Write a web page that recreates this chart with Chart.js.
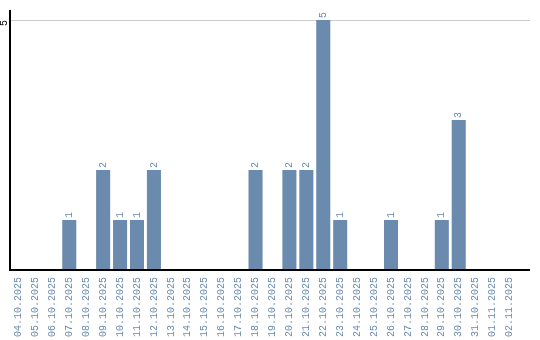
<!DOCTYPE html>
<html lang="en">
<head>
    <meta charset="UTF-8">
    <title>Daily count</title>
    <style>
        html, body { margin: 0; padding: 0; background: #ffffff; }
        .chart-container { position: relative; width: 540px; height: 340px; }
    </style>
</head>
<body>
    <div class="chart-container">
        <canvas id="dayChart" width="540" height="340"></canvas>
    </div>

    <script src="https://cdn.jsdelivr.net/npm/chart.js"></script>
    <script>
        // dates shown on the x axis
        const days = [
            '04.10.2025', '05.10.2025', '06.10.2025', '07.10.2025', '08.10.2025',
            '09.10.2025', '10.10.2025', '11.10.2025', '12.10.2025', '13.10.2025',
            '14.10.2025', '15.10.2025', '16.10.2025', '17.10.2025', '18.10.2025',
            '19.10.2025', '20.10.2025', '21.10.2025', '22.10.2025', '23.10.2025',
            '24.10.2025', '25.10.2025', '26.10.2025', '27.10.2025', '28.10.2025',
            '29.10.2025', '30.10.2025', '31.10.2025', '01.11.2025', '02.11.2025'
        ];
        const counts = [0, 0, 0, 1, 0, 2, 1, 1, 2, 0, 0, 0, 0, 0, 2, 0, 2, 2, 5, 1, 0, 0, 1, 0, 0, 1, 3, 0, 0, 0];
        const yTicks = [5];
        const yMax = 5.2;

        const barColor = '#6a8bad';
        const monoFont = "'Liberation Mono', monospace";

        // axis lines, the grid line and the value labels over the bars
        const decorations = {
            id: 'decorations',
            beforeDatasetsDraw(chart) {
                const { ctx, chartArea, scales } = chart;
                const ext = chartArea.right + 12;
                ctx.save();
                ctx.strokeStyle = '#cccccc';
                ctx.lineWidth = 1;
                yTicks.forEach(v => {
                    const y = Math.round(scales.y.getPixelForValue(v)) + 0.5;
                    ctx.beginPath();
                    ctx.moveTo(chartArea.left, y);
                    ctx.lineTo(ext, y);
                    ctx.stroke();
                });
                ctx.restore();
            },
            afterDatasetsDraw(chart) {
                const { ctx, chartArea } = chart;
                const ext = chartArea.right + 12;
                ctx.save();
                ctx.strokeStyle = '#000000';
                ctx.lineWidth = 2;
                ctx.beginPath();
                ctx.moveTo(chartArea.left, chartArea.top);
                ctx.lineTo(chartArea.left, chartArea.bottom);
                ctx.lineTo(ext, chartArea.bottom);
                ctx.stroke();

                ctx.fillStyle = barColor;
                ctx.font = '10px ' + monoFont;
                ctx.textAlign = 'left';
                ctx.textBaseline = 'middle';
                chart.getDatasetMeta(0).data.forEach((bar, i) => {
                    if (!counts[i]) return;
                    ctx.save();
                    ctx.translate(bar.x, bar.y - 2);
                    ctx.rotate(-Math.PI / 2);
                    ctx.fillText(String(counts[i]), 0, 0);
                    ctx.restore();
                });
                ctx.restore();
            }
        };

        const ctx = document.getElementById('dayChart').getContext('2d');
        new Chart(ctx, {
            type: 'bar',
            data: {
                labels: days,
                datasets: [{
                    data: counts,
                    backgroundColor: barColor,
                    borderWidth: 0,
                    barPercentage: 0.83,
                    categoryPercentage: 1
                }]
            },
            options: {
                responsive: false,
                animation: false,
                layout: { padding: { top: 10, right: 22, left: 0, bottom: 0 } },
                plugins: {
                    legend: { display: false },
                    tooltip: { enabled: false }
                },
                scales: {
                    x: {
                        grid: { display: false, drawTicks: false },
                        border: { display: false },
                        ticks: {
                            color: barColor,
                            font: { family: monoFont, size: 10 },
                            minRotation: 90,
                            maxRotation: 90,
                            autoSkip: false,
                            padding: 7
                        },
                        afterFit(scale) { scale.height = 70; }
                    },
                    y: {
                        min: 0,
                        max: yMax,
                        grid: { display: false, drawTicks: false },
                        border: { display: false },
                        afterBuildTicks(scale) { scale.ticks = yTicks.map(v => ({ value: v })); },
                        ticks: {
                            color: '#000000',
                            font: { family: monoFont, size: 10 },
                            minRotation: 90,
                            maxRotation: 90,
                            padding: 6
                        },
                        afterFit(scale) {
                            scale.width = 10;
                            scale.paddingTop = 0;
                            scale.paddingBottom = 0;
                        }
                    }
                }
            },
            plugins: [decorations]
        });
    </script>
</body>
</html>
